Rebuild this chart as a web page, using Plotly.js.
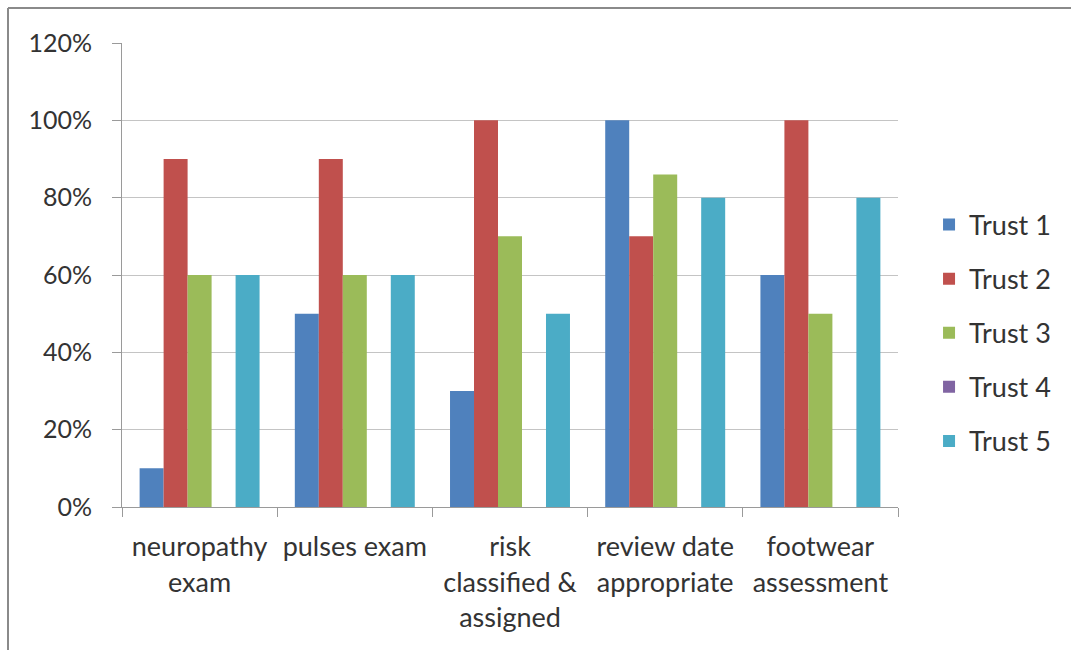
<!DOCTYPE html>
<html>
<head>
<meta charset="utf-8">
<script src="https://cdn.plot.ly/plotly-3.0.1.min.js"></script>
<style>
  html, body { margin: 0; padding: 0; background: #fff; }
  #chart { width: 1071px; height: 650px; }
</style>
</head>
<body>
<div id="chart"></div>
<script>
// Audit criteria (x categories) and percentage met per trust
const categories = [
  'neuropathy<br>exam',
  'pulses exam',
  'risk<br>classified &amp;<br>assigned',
  'review date<br>appropriate',
  'footwear<br>assessment'
];
const trust1 = [10, 50, 30, 100, 60];
const trust2 = [90, 90, 100, 70, 100];
const trust3 = [60, 60, 70, 86, 50];
const trust4 = [0, 0, 0, 0, 0];
const trust5 = [60, 60, 50, 80, 80];

const seriesNames = ['Trust 1', 'Trust 2', 'Trust 3', 'Trust 4', 'Trust 5'];
const seriesValues = [trust1, trust2, trust3, trust4, trust5];
const seriesColors = ['#4F81BD', '#C0504D', '#9BBB59', '#8064A2', '#4BACC6'];

const yTicks = [0, 20, 40, 60, 80, 100, 120];

const FONT = 'Lato, Calibri, "Liberation Sans", sans-serif';
const TEXT = '#333333';

const traces = seriesNames.map((name, i) => ({
  type: 'bar',
  name: name,
  x: categories,
  y: seriesValues[i],
  legendgroup: 'g' + i,
  marker: { color: seriesColors[i], line: { width: 0 } },
  hoverinfo: 'x+y+name'
}));

const frameColor = '#8a8a8a';

const layout = {
  width: 1071,
  height: 650,
  margin: { l: 122, r: 173, t: 43, b: 143, pad: 0, autoexpand: false },
  paper_bgcolor: '#ffffff',
  plot_bgcolor: '#ffffff',
  font: { family: FONT, size: 25, color: TEXT },
  barmode: 'group',
  bargap: 0.227,
  bargroupgap: 0,
  showlegend: true,
  legend: {
    x: 1.040, xanchor: 'left',
    y: 0.375, yanchor: 'middle',
    font: { family: FONT, size: 27, color: TEXT },
    tracegroupgap: 16,
    itemclick: false,
    bgcolor: 'rgba(0,0,0,0)'
  },
  xaxis: {
    type: 'category',
    showgrid: false,
    showline: true,
    linecolor: '#9a9a9a',
    linewidth: 1,
    ticks: 'outside',
    tickson: 'boundaries',
    ticklen: 9,
    tickcolor: '#9a9a9a',
    tickfont: { family: FONT, size: 27, color: TEXT },
    ticklabelstandoff: 16,
    zeroline: false
  },
  yaxis: {
    range: [0, 120],
    tickvals: yTicks,
    ticktext: yTicks.map(v => v + '%'),
    showgrid: true,
    gridcolor: '#c4c4c4',
    gridwidth: 1,
    showline: true,
    linecolor: '#9a9a9a',
    linewidth: 1,
    ticks: 'outside',
    ticklen: 9,
    tickcolor: '#9a9a9a',
    tickfont: { family: FONT, size: 25, color: TEXT },
    ticklabelstandoff: 15,
    zeroline: false
  },
  shapes: [
    // outer chart frame: top and left edges
    { type: 'line', xref: 'paper', yref: 'paper',
      x0: -0.1469, x1: 1.25, y0: 1.0754, y1: 1.0754,
      line: { color: frameColor, width: 2 } },
    { type: 'line', xref: 'paper', yref: 'paper',
      x0: -0.1469, x1: -0.1469, y0: 1.0754, y1: -0.35,
      line: { color: frameColor, width: 2 } }
  ]
};

Plotly.newPlot('chart', traces, layout, { displayModeBar: false, staticPlot: true });
</script>
</body>
</html>
